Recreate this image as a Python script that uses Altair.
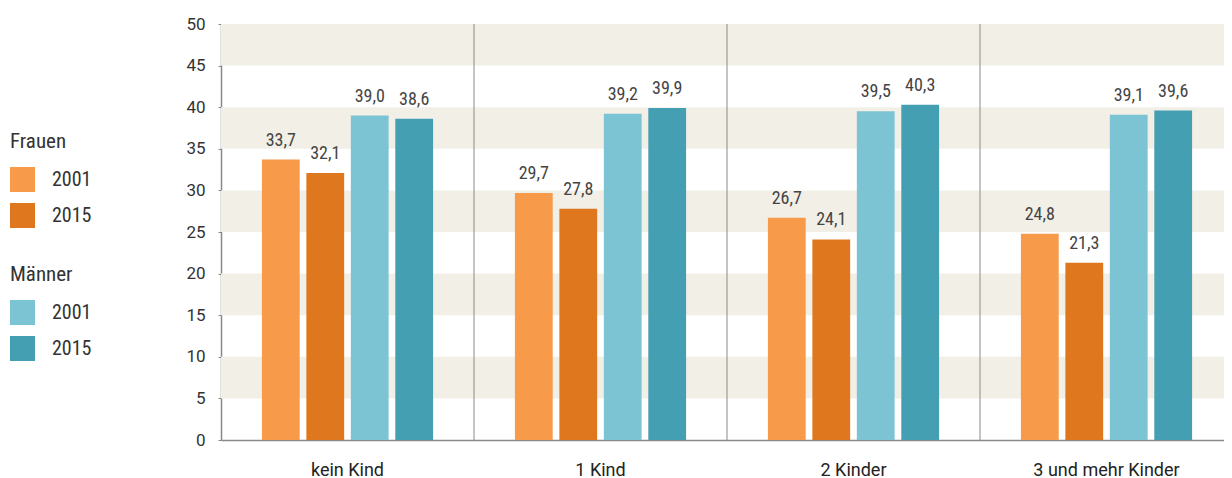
import altair as alt
import pandas as pd

categories = ["kein Kind", "1 Kind", "2 Kinder", "3 und mehr Kinder"]
series = ["F2001", "F2015", "M2001", "M2015"]
series_group = ["Frauen", "Frauen", "Männer", "Männer"]
series_year = ["2001", "2015", "2001", "2015"]
f2001 = [33.7, 29.7, 26.7, 24.8]
f2015 = [32.1, 27.8, 24.1, 21.3]
m2001 = [39.0, 39.2, 39.5, 39.1]
m2015 = [38.6, 39.9, 40.3, 39.6]
band_lo = [5, 15, 25, 35, 45]
band_hi = [10, 20, 30, 40, 50]
y_ticks = list(range(0, 51, 5))

values = {"F2001": f2001, "F2015": f2015, "M2001": m2001, "M2015": m2015}
rows = []
for s, g, yr in zip(series, series_group, series_year):
    for c, v in zip(categories, values[s]):
        rows.append({"cat": c, "series": s, "group": g, "year": yr, "value": v,
                     "label": f"{v:.1f}".replace(".", ",")})
df = pd.DataFrame(rows)
bands_df = pd.DataFrame({"lo": band_lo, "hi": band_hi})
div_df = pd.DataFrame({"cat": categories[1:]})

W, H = 1003, 416
COND = "Liberation Sans Narrow, Roboto Condensed, DejaVu Sans Condensed, Roboto, sans-serif"
REG = "Roboto, Liberation Sans, sans-serif"

y_scale = alt.Scale(domain=[0, 50], nice=False)
x_scale = alt.Scale(range=[0, 1012], paddingInner=0, paddingOuter=0)
off_scale = alt.Scale(domain=series, paddingInner=0.15, paddingOuter=0.92)

x_axis = alt.Axis(title=None, labelAngle=0, labelAlign="center", labelBaseline="middle",
                  ticks=False, domainColor="#8a8a8a", domainWidth=1.5, labelFontSize=18,
                  labelColor="#222", labelFont=REG, labelPadding=30)

bands = alt.Chart(bands_df).mark_rect(color="#f2efe7").encode(
    x=alt.value(0), x2=alt.value("width"),
    y=alt.Y("lo:Q", scale=y_scale,
            axis=alt.Axis(values=y_ticks, title=None, labelFontSize=17, labelColor="#333",
                          labelFont=REG, tickSize=3, tickColor="#888", labelPadding=13,
                          domainColor="#888", domainWidth=1.5, grid=False)),
    y2="hi:Q",
)

dividers = alt.Chart(div_df).mark_rule(color="#8a8a8a", strokeWidth=1).encode(
    x=alt.X("cat:N", sort=categories, bandPosition=0, scale=x_scale, axis=x_axis),
    y=alt.value(0), y2=alt.value("height"),
)

x_enc = alt.X("cat:N", sort=categories, scale=x_scale, axis=x_axis)

def legend(title, ly):
    return alt.Legend(title=title, orient="none", legendX=-211, legendY=ly,
                      symbolType="square", symbolSize=625, symbolStrokeWidth=0,
                      symbolOpacity=1, titleFontSize=21, titleFontWeight="normal",
                      titleColor="#333", titleFont=COND, labelFont=COND, labelFontSize=20,
                      labelColor="#333", labelOffset=17, rowPadding=11, titlePadding=15,
                      padding=0)

fr = alt.Chart(df).transform_filter(alt.datum.group == "Frauen").mark_bar().encode(
    x=x_enc,
    xOffset=alt.XOffset("series:N", scale=off_scale),
    y=alt.Y("value:Q", scale=y_scale),
    color=alt.Color("year:N", scale=alt.Scale(domain=["2001", "2015"],
                                              range=["#f79a4a", "#df771e"]),
                    legend=legend("Frauen", 107)),
)
ma = alt.Chart(df).transform_filter(alt.datum.group == "Männer").mark_bar().encode(
    x=x_enc,
    xOffset=alt.XOffset("series:N", scale=off_scale),
    y=alt.Y("value:Q", scale=y_scale),
    color=alt.Color("year:N", scale=alt.Scale(domain=["2001", "2015"],
                                              range=["#7cc4d4", "#449fb2"]),
                    legend=legend("Männer", 240)),
)
labels = alt.Chart(df).mark_text(baseline="bottom", dy=-10, fontSize=18, font=COND,
                                 color="#444").encode(
    x=x_enc,
    xOffset=alt.XOffset("series:N", scale=off_scale),
    y=alt.Y("value:Q", scale=y_scale),
    text="label:N",
)

chart = alt.layer(bands, dividers, fr, ma, labels).resolve_scale(color="independent").properties(
    width=W, height=H,
    autosize=alt.AutoSizeParams(type="none"),
    padding={"left": 213, "top": 16, "right": 0, "bottom": 38},
).configure_view(stroke=None)

chart.save("out.html", embed_options={"renderer": "svg", "actions": False})
